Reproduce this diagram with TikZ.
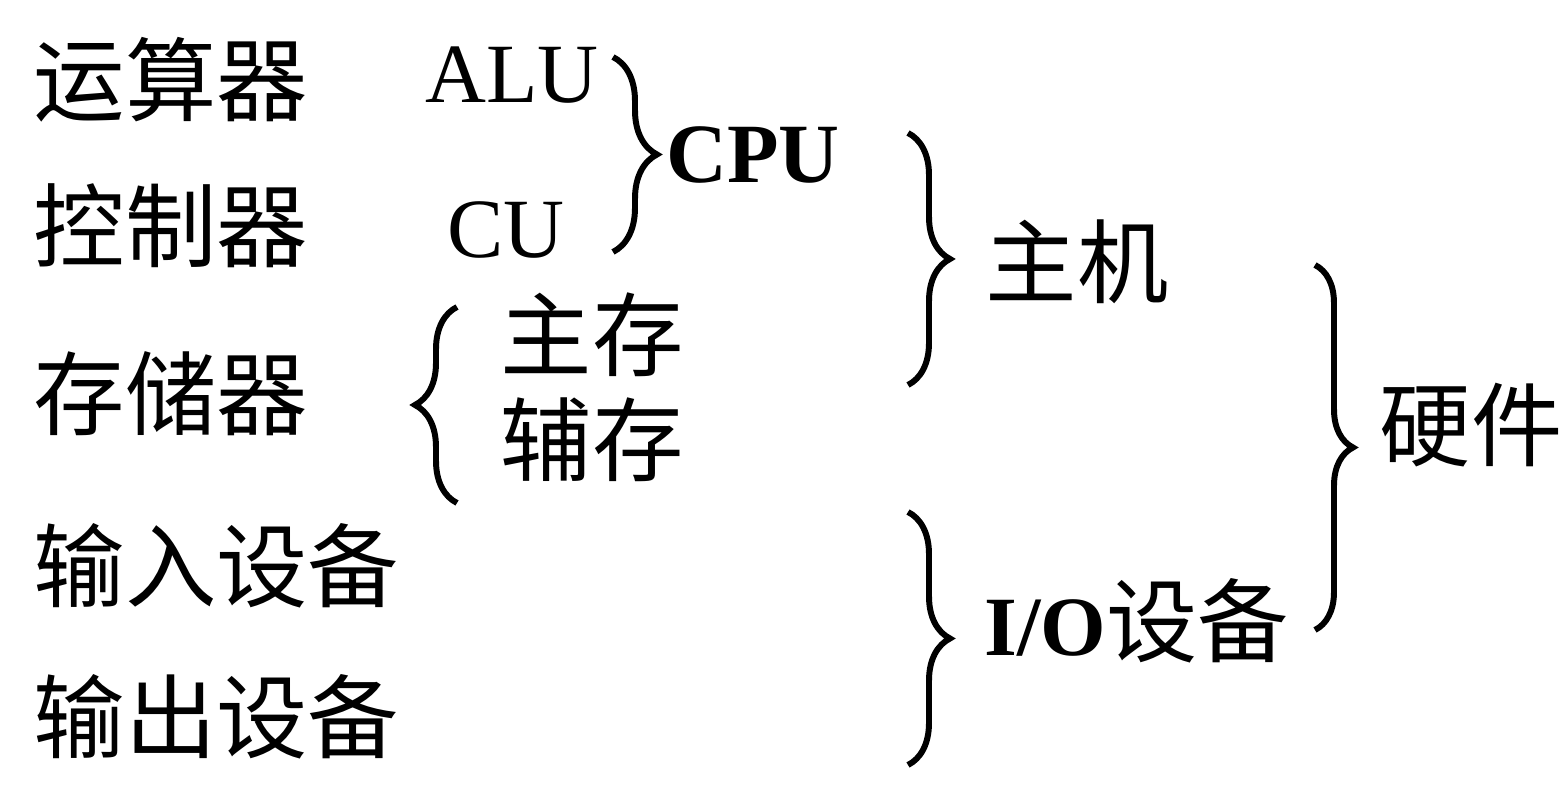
\documentclass[tikz,border=0pt]{standalone}
\usepackage{fontspec}
\setmainfont{Liberation Serif}
\newfontfamily\cjk{Noto Sans CJK SC}
\usetikzlibrary{decorations.pathreplacing}

\tikzset{
    zh/.style={font=\cjk\fontsize{26}{30}\selectfont, inner sep=0pt},
    en/.style={font=\fontsize{24}{28}\selectfont, inner sep=0pt},
    brc/.style={decorate, decoration={brace, amplitude=#1}, line width=1.7pt},
    brc/.default=0.42cm
}

\begin{document}
\begin{tikzpicture}[scale=1.0]
    \useasboundingbox (0,0) rectangle (15.64,7.86);

    % left column
    \node[zh,anchor=west] (ysq) at (0.33,7.06) {运算器};
    \node[zh,anchor=west] (kzq) at (0.33,5.60) {控制器};
    \node[zh,anchor=west] (ccq) at (0.33,3.92) {存储器};
    \node[zh,anchor=west] (srsb) at (0.33,2.20) {输入设备};
    \node[zh,anchor=west] (scsb) at (0.33,0.69) {输出设备};

    % second column
    \node[en] (alu) at (5.12,7.11) {ALU};
    \node[en] (cu) at (5.06,5.56) {CU};
    \node[zh] (zc) at (5.92,4.51) {主存};
    \node[zh] (fc) at (5.92,3.46) {辅存};

    % groups
    \node[en] (cpu) at (7.53,6.31) {\textbf{CPU}};
    \node[zh] (zj) at (10.77,5.24) {主机};
    \node[zh] (io) at (11.37,1.65) {\fontsize{24}{28}\selectfont\rmfamily\textbf{I/O}\cjk\fontsize{26}{30}\selectfont 设备};
    \node[zh] (yj) at (14.71,3.61) {硬件};

    % brace ends
    \coordinate (cpuT) at (6.13,7.29);
    \coordinate (cpuB) at (6.13,5.34);
    \coordinate (ccT) at (4.57,4.79);
    \coordinate (ccB) at (4.57,2.83);
    \coordinate (zjT) at (9.08,6.53);
    \coordinate (zjB) at (9.08,4.01);
    \coordinate (ioT) at (9.08,2.74);
    \coordinate (ioB) at (9.08,0.21);
    \coordinate (yjT) at (13.15,5.21);
    \coordinate (yjB) at (13.15,1.56);

    \draw[brc=0.44cm] (cpuT) -- (cpuB);
    \draw[brc] (ccB) -- (ccT);
    \draw[brc] (zjT) -- (zjB);
    \draw[brc] (ioT) -- (ioB);
    \draw[brc=0.38cm] (yjT) -- (yjB);
\end{tikzpicture}
\end{document}
